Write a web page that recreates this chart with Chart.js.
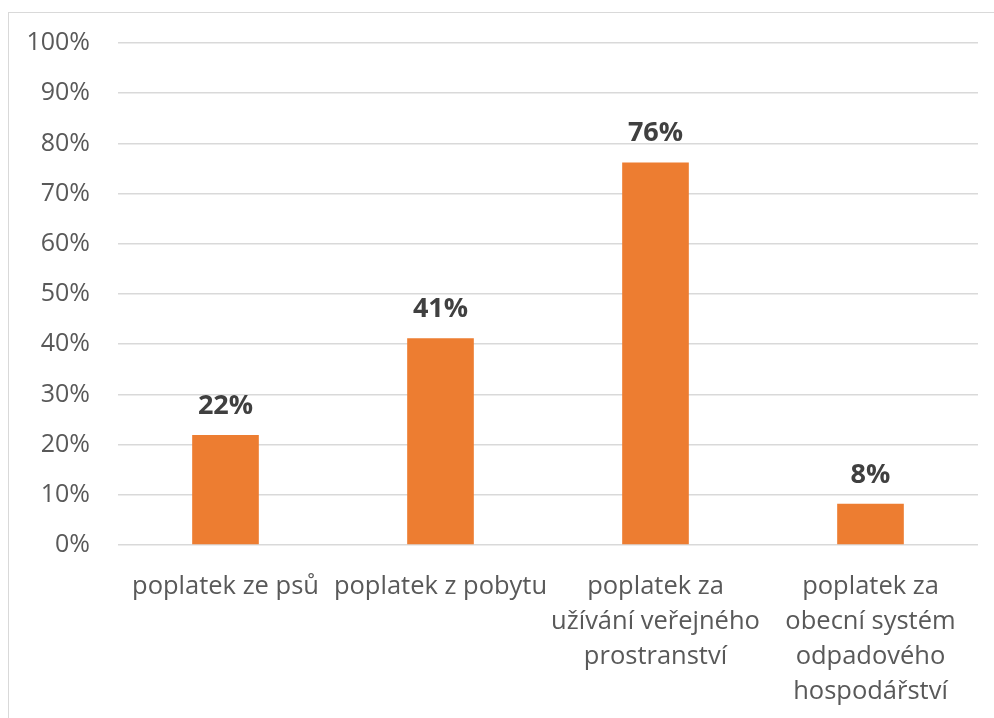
<!DOCTYPE html>
<html>
<head>
<meta charset="utf-8">
<script src="https://cdn.jsdelivr.net/npm/chart.js@4"></script>
<style>
  body { margin: 0; background: #fff; overflow: hidden; }
  #frame { position: absolute; left: 8px; top: 12px; width: 1100px; height: 800px; border: 1px solid #d9d9d9; }
  #wrap { position: absolute; left: 0; top: 0; width: 994px; height: 718px; }
</style>
</head>
<body>
<div id="frame"></div>
<div id="wrap"><canvas id="chart"></canvas></div>
<script>
var categories = [
  ['poplatek ze psů'],
  ['poplatek z pobytu'],
  ['poplatek za', 'užívání veřejného', 'prostranství'],
  ['poplatek za', 'obecní systém', 'odpadového', 'hospodářství']
];
var shares = [0.219, 0.412, 0.762, 0.082];
var yTicks = [0, 0.1, 0.2, 0.3, 0.4, 0.5, 0.6, 0.7, 0.8, 0.9, 1];

// value labels over the bars
var barLabels = {
  id: 'barLabels',
  afterDatasetsDraw: function (chart) {
    var ctx = chart.ctx;
    var meta = chart.getDatasetMeta(0);
    ctx.save();
    ctx.font = 'bold 27px "Open Sans"';
    ctx.fillStyle = '#404040';
    ctx.textAlign = 'center';
    ctx.textBaseline = 'alphabetic';
    meta.data.forEach(function (bar, i) {
      ctx.fillText(Math.round(shares[i] * 100) + '%', bar.x, bar.y - 21);
    });
    ctx.restore();
  }
};

var ctx = document.getElementById('chart').getContext('2d');
new Chart(ctx, {
  type: 'bar',
  data: {
    labels: categories,
    datasets: [{
      data: shares,
      backgroundColor: '#ED7D31',
      barPercentage: 0.31,
      categoryPercentage: 1
    }]
  },
  options: {
    responsive: true,
    maintainAspectRatio: false,
    animation: false,
    layout: { padding: { left: 0, right: 16, top: 30, bottom: 0 } },
    plugins: { legend: { display: false }, tooltip: { enabled: false } },
    scales: {
      x: {
        grid: { display: false },
        border: { display: false },
        ticks: {
          color: '#595959',
          font: { family: 'Open Sans', size: 25.5, lineHeight: 1.37 },
          padding: 16,
          maxRotation: 0,
          autoSkip: false
        },
        afterFit: function (scale) { scale.height = 173; }
      },
      y: {
        min: 0,
        max: 1,
        afterBuildTicks: function (scale) {
          scale.ticks = yTicks.map(function (v) { return { value: v }; });
        },
        grid: { color: '#d9d9d9', lineWidth: 1.5, drawTicks: false },
        border: { display: false },
        ticks: {
          color: '#595959',
          font: { family: 'Open Sans', size: 25 },
          padding: 28,
          callback: function (v) { return Math.round(v * 100) + '%'; }
        },
        afterFit: function (scale) { scale.width = 118; }
      }
    }
  },
  plugins: [barLabels]
});
</script>
</body>
</html>
